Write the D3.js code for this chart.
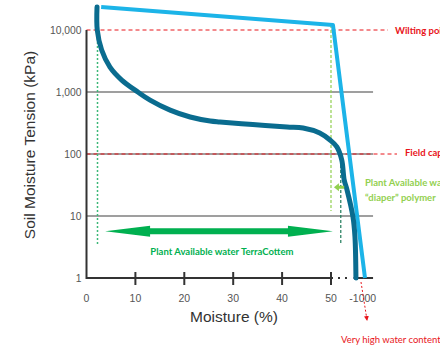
<!DOCTYPE html>
<html><head><meta charset="utf-8">
<script src="https://cdn.jsdelivr.net/npm/d3@7"></script>
<style>html,body{margin:0;padding:0;background:#fff;overflow:hidden}</style>
</head><body>
<svg id="chart" width="440" height="352"></svg>
<script>
// ---- data ----
const yTicks = [1, 10, 100, 1000, 10000];
const yTickLabels = ["1", "10", "100", "1,000", "10,000"];
const xTicks = [0, 10, 20, 30, 40, 50];
const xTickLabels = ["0", "10", "20", "30", "40", "50"];
const xBreakTick = 56.5;
const xBreakLabel = "-1000";
const gridLevels = [10, 100, 1000];
const wiltingPoint = 10000;
const fieldCapacity = 100;

// TerraCottem soil curve (moisture %, tension kPa)
const terraMoisture = [2.15, 2.2, 3.1, 4.8, 7.2, 10.5, 13.0, 17.1, 21.2, 25.3, 27.3, 34, 41, 44.3, 47.7, 49.8, 51.2, 52.2, 52.7, 53.3, 54.5, 54.9, 55.1];
const terraTension  = [23500, 10000, 4750, 2520, 1560, 1000, 740, 510, 395, 340, 328, 299, 272, 263, 218, 168, 130, 80, 38, 26, 9.6, 4.6, 1];

// "diaper" polymer curve
const polymerMoisture = [3.0, 50.4, 56.95];
const polymerTension  = [23500, 12000, 1];

const labels = {
  yTitle: "Soil Moisture Tension (kPa)",
  xTitle: "Moisture (%)",
  wilting: "Wilting point",
  field: "Field capacity",
  terra: "Plant Available water TerraCottem",
  poly1: "Plant Available water",
  poly2: "\u201Cdiaper\u201D polymer",
  high: "Very high water content"
};

// ---- scales ----
const svg = d3.select("#chart");
const x = d3.scaleLinear().domain([0, 50]).range([86.5, 331]);
const y = d3.scaleLog().domain([1, 10000]).range([278, 30]);
const xEnd = 58.6;

const defs = svg.append("defs");
defs.append("marker").attr("id", "redhead").attr("viewBox", "0 0 10 10")
  .attr("refX", 8).attr("refY", 5).attr("markerWidth", 5).attr("markerHeight", 5)
  .attr("orient", "auto").append("path").attr("d", "M0,0L10,5L0,10z").attr("fill", "#e8151b");

// gridlines
svg.append("g").selectAll("line").data(gridLevels).join("line")
  .attr("x1", x(0)).attr("x2", x(xEnd)).attr("y1", d => y(d)).attr("y2", d => y(d))
  .attr("stroke", "#7f7f7f").attr("stroke-width", 1.5);

// red dashed reference lines
svg.append("line").attr("x1", x(0)).attr("x2", 388).attr("y1", y(wiltingPoint)).attr("y2", y(wiltingPoint))
  .attr("stroke", "#e8151b").attr("stroke-width", 1).attr("stroke-dasharray", "4,3");
svg.append("line").attr("x1", x(0)).attr("x2", 397).attr("y1", y(fieldCapacity)).attr("y2", y(fieldCapacity))
  .attr("stroke", "#e8151b").attr("stroke-width", 1).attr("stroke-dasharray", "4,3");

svg.append("text").attr("x", 395).attr("y", y(wiltingPoint) + 3.5)
  .attr("font-family", "Lato, 'Open Sans', sans-serif").attr("font-weight", "bold").attr("font-size", 9.5)
  .attr("fill", "#e8151b").text(labels.wilting);
svg.append("text").attr("x", 405).attr("y", y(fieldCapacity) + 2)
  .attr("font-family", "Lato, 'Open Sans', sans-serif").attr("font-weight", "bold").attr("font-size", 9.5)
  .attr("fill", "#e8151b").text(labels.field);

// green vertical guides
svg.append("line").attr("x1", x(2.25)).attr("x2", x(2.25)).attr("y1", y(10000)).attr("y2", y(3.5))
  .attr("stroke", "#3cb878").attr("stroke-width", 1.5).attr("stroke-dasharray", "2,2");
svg.append("line").attr("x1", x(50)).attr("x2", x(50)).attr("y1", y(12000)).attr("y2", y(12))
  .attr("stroke", "#92d050").attr("stroke-width", 1.2).attr("stroke-dasharray", "3,2");
svg.append("line").attr("x1", x(52)).attr("x2", x(52)).attr("y1", y(96)).attr("y2", y(3.4))
  .attr("stroke", "#1e7b5a").attr("stroke-width", 1.2).attr("stroke-dasharray", "3,2");

// axes
svg.append("line").attr("x1", x(0)).attr("x2", x(0)).attr("y1", y(10000)).attr("y2", y(1) + 1)
  .attr("stroke", "#333").attr("stroke-width", 2);
svg.append("line").attr("x1", x(0)).attr("x2", x(50) + 2).attr("y1", y(1)).attr("y2", y(1))
  .attr("stroke", "#333").attr("stroke-width", 2);
svg.append("line").attr("x1", x(50) + 7).attr("x2", x(54.2)).attr("y1", y(1)).attr("y2", y(1))
  .attr("stroke", "#333").attr("stroke-width", 2).attr("stroke-dasharray", "2,5");
svg.append("line").attr("x1", x(54.6)).attr("x2", x(xEnd)).attr("y1", y(1)).attr("y2", y(1))
  .attr("stroke", "#333").attr("stroke-width", 2);

svg.append("g").selectAll("line").data(xTicks.filter(d => d > 0)).join("line")
  .attr("x1", d => x(d)).attr("x2", d => x(d)).attr("y1", y(1) - 6).attr("y2", y(1) + 7)
  .attr("stroke", "#333").attr("stroke-width", 2);

svg.append("g").selectAll("text").data(xTicks).join("text")
  .attr("x", d => x(d)).attr("y", y(1) + 24).attr("text-anchor", "middle")
  .attr("font-family", "Arial, 'Liberation Sans', sans-serif").attr("font-size", 10.5).attr("fill", "#555")
  .text((d, i) => xTickLabels[i]);
svg.append("text").attr("x", x(xBreakTick)).attr("y", y(1) + 24).attr("text-anchor", "middle")
  .attr("font-family", "Arial, 'Liberation Sans', sans-serif").attr("font-size", 10.5).attr("fill", "#555")
  .text(xBreakLabel);

svg.append("g").selectAll("text").data(yTicks).join("text")
  .attr("x", x(0) - 5).attr("y", d => y(d) + 4).attr("text-anchor", "end")
  .attr("font-family", "Arial, 'Liberation Sans', sans-serif").attr("font-size", 10.3).attr("fill", "#555")
  .text((d, i) => yTickLabels[i]);

svg.append("text").attr("transform", `translate(35,${(y(1) + y(10000)) / 2 - 9}) rotate(-90)`)
  .attr("text-anchor", "middle").attr("font-family", "Arial, 'Liberation Sans', sans-serif")
  .attr("font-size", 15.5).attr("fill", "#333").text(labels.yTitle);
svg.append("text").attr("x", 234).attr("y", 322).attr("text-anchor", "middle")
  .attr("font-family", "Arial, 'Liberation Sans', sans-serif")
  .attr("font-size", 15.5).attr("fill", "#333").text(labels.xTitle);

// curves
const terra = terraMoisture.map((m, i) => [m, terraTension[i]]);
const poly = polymerMoisture.map((m, i) => [m, polymerTension[i]]);

svg.append("path").datum(poly)
  .attr("d", d3.line().x(d => x(d[0])).y(d => y(d[1])))
  .attr("fill", "none").attr("stroke", "#1cb4e8").attr("stroke-width", 4)
  .attr("stroke-linejoin", "round");
svg.append("path").datum(terra)
  .attr("d", d3.line().curve(d3.curveCatmullRom.alpha(0.5)).x(d => x(d[0])).y(d => y(d[1])))
  .attr("fill", "none").attr("stroke", "#0a6c8f").attr("stroke-width", 5)
  .attr("stroke-linecap", "round");

// green double arrow
const ay = y(5.7), ax1 = x(3.8), ax2 = x(50.4), headL = 45, headH = 5.5, shaftH = 3;
svg.append("path")
  .attr("d", `M${ax1},${ay} L${ax1 + headL},${ay - headH} L${ax1 + headL},${ay - shaftH} L${ax2 - headL},${ay - shaftH} L${ax2 - headL},${ay - headH} L${ax2},${ay} L${ax2 - headL},${ay + headH} L${ax2 - headL},${ay + shaftH} L${ax1 + headL},${ay + shaftH} L${ax1 + headL},${ay + headH} Z`)
  .attr("fill", "#00b050");
svg.append("text").attr("x", x(27.7)).attr("y", y(2.7) + 3.5).attr("text-anchor", "middle")
  .attr("font-family", "Lato, 'Open Sans', sans-serif").attr("font-weight", "bold").attr("font-size", 9.5)
  .attr("fill", "#00b050").text(labels.terra);

// small light-green arrow
const sy = y(29), sx1 = x(52.7), sx2 = x(50.6);
svg.append("path")
  .attr("d", `M${sx2},${sy} L${sx2 + 5},${sy - 4} L${sx2 + 5},${sy - 1.5} L${sx1},${sy - 1.5} L${sx1},${sy + 1.5} L${sx2 + 5},${sy + 1.5} L${sx2 + 5},${sy + 4} Z`)
  .attr("fill", "#92d050");
svg.append("text").attr("x", 365).attr("y", 185.5)
  .attr("font-family", "Lato, 'Open Sans', sans-serif").attr("font-weight", "bold").attr("font-size", 9.5)
  .attr("fill", "#92d050").text(labels.poly1);
svg.append("text").attr("x", 365).attr("y", 200.5)
  .attr("font-family", "Lato, 'Open Sans', sans-serif").attr("font-weight", "bold").attr("font-size", 9.5)
  .attr("fill", "#92d050").text(labels.poly2);

// red dashed arrow and label
svg.append("line").attr("x1", 361).attr("y1", 282).attr("x2", 367).attr("y2", 320)
  .attr("stroke", "#e8151b").attr("stroke-width", 1).attr("stroke-dasharray", "2,2")
  .attr("marker-end", "url(#redhead)");
svg.append("text").attr("x", 341).attr("y", 343)
  .attr("font-family", "Lato, 'Open Sans', sans-serif").attr("font-size", 9.5)
  .attr("fill", "#e8151b").text(labels.high);
</script>
</body></html>
